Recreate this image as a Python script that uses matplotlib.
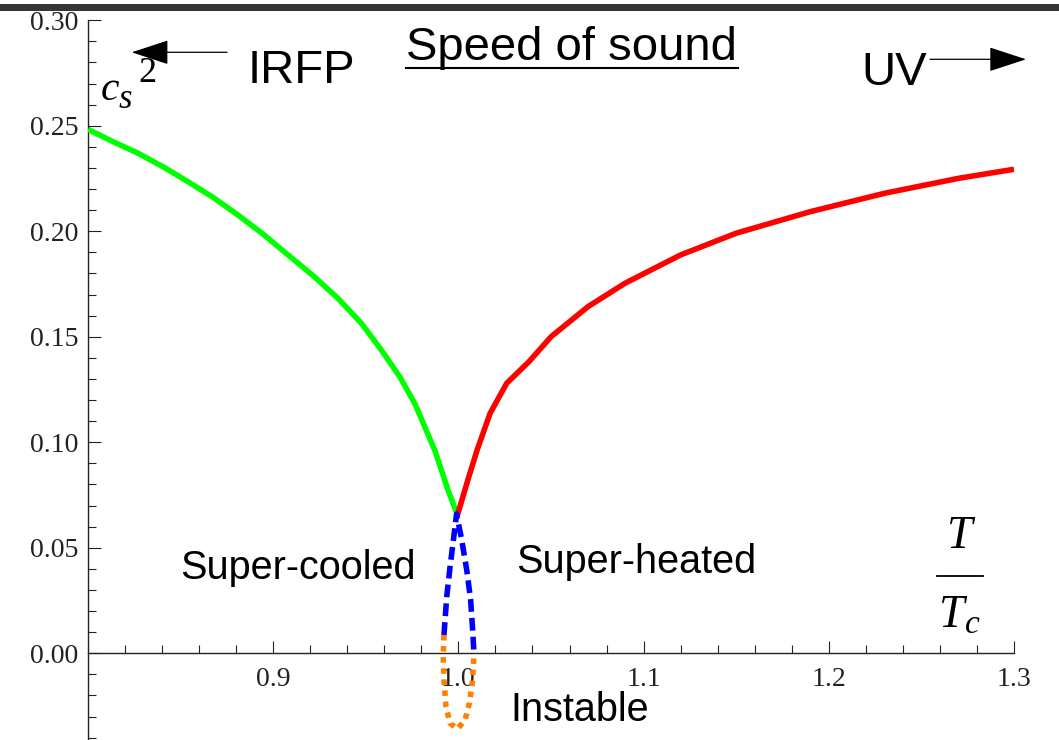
import matplotlib
matplotlib.use("Agg")
import matplotlib.pyplot as plt
from matplotlib.patches import FancyArrowPatch, Rectangle, ArrowStyle
from matplotlib.lines import Line2D
from matplotlib.ticker import FixedLocator, FormatStrFormatter

# ---------------- data ----------------
green_T = [0.800, 0.8135, 0.827, 0.8405, 0.854, 0.8675, 0.881, 0.8945, 0.908, 0.9215, 0.935,
           0.9476, 0.9584, 0.9683, 0.9764, 0.9818, 0.9872, 0.9908, 0.9944, 0.9995]
green_cs2 = [0.2483, 0.2425, 0.2370, 0.2306, 0.2235, 0.2161, 0.2077, 0.1987, 0.1888, 0.1790, 0.1682,
             0.1564, 0.1437, 0.1311, 0.1185, 0.1074, 0.0963, 0.0869, 0.0773, 0.0655]

red_T = [0.9995, 1.0051, 1.0101, 1.0171, 1.0261, 1.0381, 1.050, 1.070, 1.090, 1.120, 1.150, 1.190, 1.230, 1.270, 1.300]
red_cs2 = [0.0655, 0.0821, 0.0963, 0.1137, 0.1280, 0.1382, 0.1500, 0.1643, 0.1754, 0.1888, 0.1991, 0.2093, 0.2180, 0.2251, 0.2294]

blue_T = [0.9922, 0.9928, 0.9937, 0.9955, 0.9973, 0.9990, 1.0018, 1.0045, 1.0066, 1.0077, 1.0084]
blue_cs2 = [0.0087, 0.0158, 0.0268, 0.0410, 0.0537, 0.0660, 0.0537, 0.0395, 0.0253, 0.0110, 0.0000]

orange_T = [0.9922, 0.9918, 0.9922, 0.9933, 0.9955, 0.9995, 1.0036, 1.0059, 1.0077, 1.0084]
orange_cs2 = [0.0087, -0.0016, -0.0127, -0.0253, -0.0332, -0.0358, -0.0316, -0.0237, -0.0127, 0.0000]

x_major = [0.9, 1.0, 1.1, 1.2, 1.3]
y_major = [0.00, 0.05, 0.10, 0.15, 0.20, 0.25, 0.30]

# ---------------- figure ----------------
W, H = 1059, 740
fig = plt.figure(figsize=(W / 100, H / 100), dpi=100)

def fx(x):
    return x / W

def fy(y):
    return 1 - y / H

ax = fig.add_axes([fx(88), 0.0, (1014 - 88) / W, (740 - 20.3) / H])
ax.set_xlim(0.8, 1.3)
ax.set_ylim(-0.0411, 0.30)

lw = 4.0
ax.plot(green_T, green_cs2, color="#00ff00", lw=lw, solid_capstyle="butt", solid_joinstyle="round", zorder=3)
ax.plot(red_T, red_cs2, color="#ff0000", lw=lw, solid_capstyle="butt", solid_joinstyle="round", zorder=3)
ax.plot(orange_T, orange_cs2, color="#ff8000", lw=lw, dashes=(1.0, 1.0), zorder=4)
ax.plot(blue_T, blue_cs2, color="#0000ff", lw=lw, dashes=(2.3, 1.1), zorder=5)

# spines
for s in ["top", "right"]:
    ax.spines[s].set_visible(False)
ax.spines["bottom"].set_position(("data", 0))
for s in ["left", "bottom"]:
    ax.spines[s].set_linewidth(1.0)
    ax.spines[s].set_color("#222222")

ax.xaxis.set_major_locator(FixedLocator(x_major))
ax.xaxis.set_minor_locator(FixedLocator([round(0.80 + 0.02 * i, 2) for i in range(1, 25) if i % 5 != 0]))
ax.yaxis.set_major_locator(FixedLocator(y_major))
ax.yaxis.set_minor_locator(FixedLocator([round(-0.04 + 0.01 * i, 2) for i in range(0, 35) if (i - 4) % 5 != 0 or i < 4]))
ax.xaxis.set_major_formatter(FormatStrFormatter("%.1f"))
ax.yaxis.set_major_formatter(FormatStrFormatter("%.2f"))

ax.tick_params(which="both", direction="in", width=0.8, color="#222222")
ax.tick_params(which="major", length=9)
ax.tick_params(which="minor", length=5.5)
ax.tick_params(axis="x", which="major", pad=10)
ax.tick_params(axis="y", which="major", pad=7)
for lab in ax.get_xticklabels() + ax.get_yticklabels():
    lab.set_fontfamily("Liberation Serif")
    lab.set_fontsize(20)
    lab.set_color("#222222")

# top dark bar
fig.add_artist(Rectangle((0, fy(11)), 1, (11 - 4) / H, transform=fig.transFigure,
                         color="#353535", lw=0, zorder=10))

sans = "Liberation Sans"
serif = "Liberation Serif"

# title with underline
fig.text(fx(406), fy(60), "Speed of sound", fontfamily=sans, fontsize=34, va="baseline", ha="left")
fig.add_artist(Line2D([fx(406), fx(738)], [fy(68), fy(68)], transform=fig.transFigure, color="black", lw=1.5))

fig.text(fx(248), fy(83), "IRFP", fontfamily=sans, fontsize=34, va="baseline", ha="left")
fig.text(fx(861), fy(85), "UV", fontfamily=sans, fontsize=34, va="baseline", ha="left")

astyle = ArrowStyle("-|>", head_length=23.8, head_width=7.8)
fig.add_artist(FancyArrowPatch((fx(227), fy(52.3)), (fx(131.7), fy(52.3)), transform=fig.transFigure,
                               arrowstyle=astyle, mutation_scale=1, shrinkA=0, shrinkB=0,
                               color="black", lw=0.9))
fig.add_artist(FancyArrowPatch((fx(930), fy(59.3)), (fx(1026), fy(59.3)), transform=fig.transFigure,
                               arrowstyle=astyle, mutation_scale=1, shrinkA=0, shrinkB=0,
                               color="black", lw=0.9))

# y label c_s^2
fig.text(fx(101), fy(100), "c", fontfamily=serif, style="italic", fontsize=30, va="baseline", ha="left")
fig.text(fx(119), fy(108), "s", fontfamily=serif, style="italic", fontsize=25, va="baseline", ha="left")
fig.text(fx(138), fy(82), "2", fontfamily=serif, fontsize=26, va="baseline", ha="left")

# x label T / T_c
fig.text(fx(960), fy(548), "T", fontfamily=serif, style="italic", fontsize=33, va="baseline", ha="center")
fig.add_artist(Line2D([fx(937), fx(983)], [fy(576), fy(576)], transform=fig.transFigure, color="black", lw=1.3))
fig.text(fx(939), fy(627), "T", fontfamily=serif, style="italic", fontsize=33, va="baseline", ha="left")
fig.text(fx(965), fy(633), "c", fontfamily=serif, style="italic", fontsize=24, va="baseline", ha="left")

# region labels
fig.text(fx(180), fy(579), "Super-cooled", fontfamily=sans, fontsize=28.5, va="baseline", ha="left")
fig.text(fx(516), fy(573), "Super-heated", fontfamily=sans, fontsize=28.5, va="baseline", ha="left")
fig.text(fx(510), fy(721), "Instable", fontfamily=sans, fontsize=28.5, va="baseline", ha="left")

fig.savefig("out.png", dpi=100)
